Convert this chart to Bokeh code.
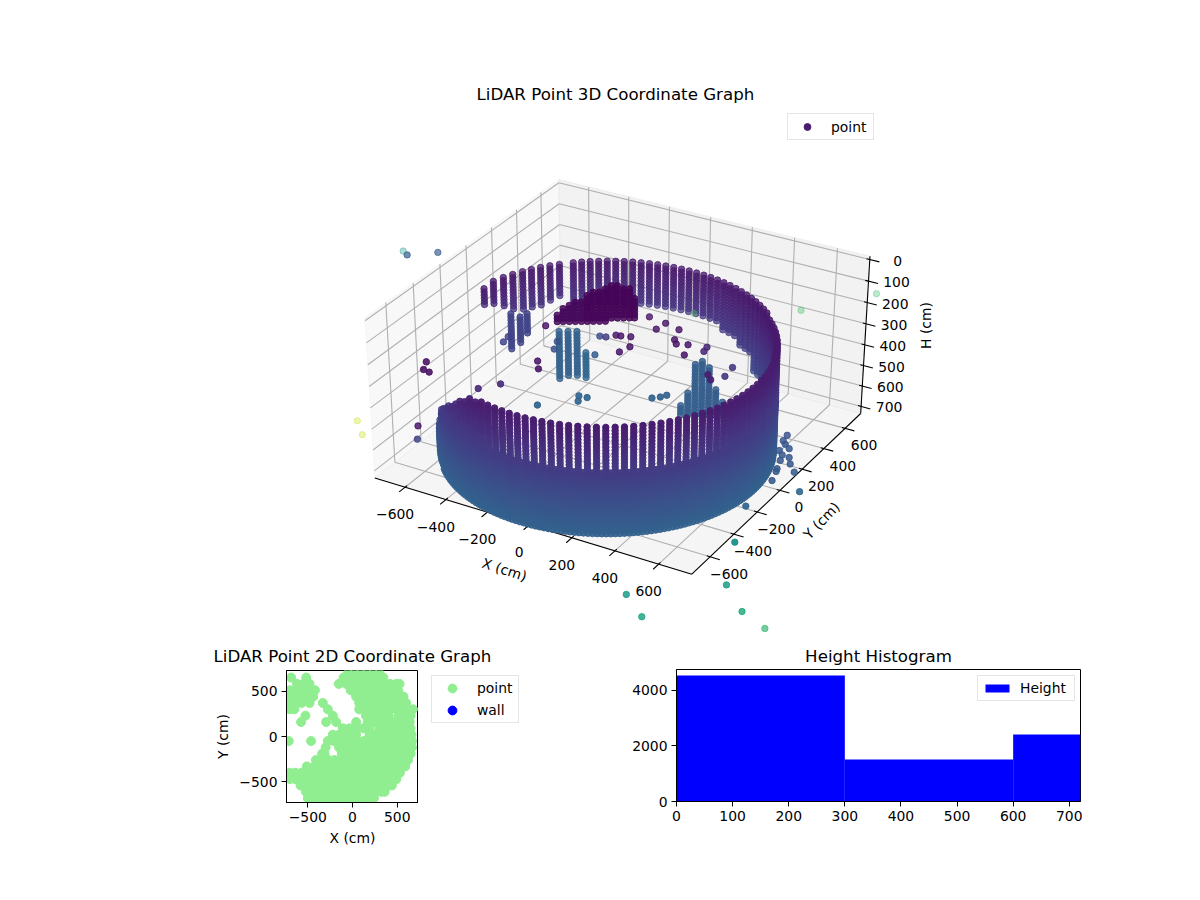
import numpy as np
from bokeh.plotting import figure
from bokeh.layouts import column, row
from bokeh.models import Range1d, Legend, LegendItem, FixedTicker
from bokeh.core.properties import value
from bokeh.palettes import Viridis256
from bokeh.embed import file_html
from bokeh.resources import INLINE

FONT = "DejaVu Sans"
TITLE_3D = "LiDAR Point 3D Coordinate Graph"
TITLE_2D = "LiDAR Point 2D Coordinate Graph"
TITLE_H = "Height Histogram"

# ---------- wall columns (upper tier): bearing around the lidar, top and bottom height
wall_angle = [-142,-138,-135,-132,-129,-126,-123,-120,-117,-114,-111,-108,-105,-102,-99,-96,-93,-90,-87,-84,-81,-78,-75,-72,-69,-66,-63,-60,-57,-54,-51,-48,-45,-42,-39,-36,-33,-30,-27,-24,-21,-18,-15,-12,-9,-6,-3,0,3,6,9,12,15,18,21,24,27,30,33,36,39,42,45,48,51,54,57,60,63,66,69,72,75,78,81,84,87,90,93,96,99,102,105,108,111,114,117,120,123,126,129,132,137,140.5,144,147.5,151,155,159,163.5,168]
wall_top = [565,535,460,430,400,370,350,320,290,270,250,250,235,235,235,235,235,235,235,235,235,235,235,235,235,235,235,235,235,235,235,235,235,235,235,235,235,235,235,235,235,235,235,235,235,235,235,235,235,235,235,235,235,220,220,220,220,220,220,220,220,220,220,205,205,205,205,205,205,205,205,205,205,205,205,205,205,205,205,205,205,205,205,205,205,205,205,205,205,205,205,205,205,205,205,205,205,205,205,205,220]
wall_bot = [610,610,510,510,510,510,510,510,510,510,510,510,510,510,510,510,510,510,510,510,510,510,510,510,510,510,510,510,510,510,510,510,510,510,510,510,510,510,510,510,510,510,510,510,510,510,510,510,510,510,510,510,510,510,510,510,510,510,600,600,600,600,600,540,540,540,540,470,470,470,430,430,430,410,410,410,410,410,410,410,410,410,410,410,410,410,410,410,410,410,410,410,360,380,390,390,390,370,340,320,300]
wall_levels = [205,220,235,250,265,280,295,310,325,340,355,370,385,400,415,430,445,460,475,490,505,520,535,550,565,580,595,610]
wall_radius = [700]
wall_center_x = [-42]
wall_center_y = [-55]

# ---------- wall columns (lower tier)
lower_angle = [-135,-133.5,-132,-130.5,-129,-127.5,-126,-124.5,-123,-121.5,-120,-118.5,-117,-115.5,-114,-112.5,-111,-109.5,-108,-106.5,-105,-103.5,-102,-100.5,-99,-97.5,-96,-94.5,-93,-91.5,-90,-88.5,-87,-85.5,-84,-82.5,-81,-79.5,-78,-76.5,-75,-73.5,-72,-70.5,-69,-67.5,-66,-64.5,-63,-61.5,-60,-58.5,-57,-55.5,-54,-52.5,-51,-49.5,-48,-46.5,-45,-43.5,-42,-40.5,-39,-37.5,-36,-34.5,-33,-31.5,-30,-28.5,-27,-25.5,-24,-22.5,-21,-19.5,-18,-16.5,-15,-13.5,-12,-10.5,-9,-7.5,-6,-4.5,-3,-1.5,0,1.5,3,4.5,6,7.5,9,10.5,12,13.5,15,16.5,18,19.5,21,22.5,24,25.5,27,28.5,30,31.5]
lower_levels = [445,460,475,490,505,520,535,550,565,580,595,610,625,640,655,670,685,700,715,730]
# broken left end of the lower tier
lower_left_angle = [-160,-156,-152,-149,-146,-143,-141,-139.5,-138,-136.5]
lower_left_levels = [610,625,640,655,670,685,700,715]

# ---------- inner column clusters: x, y, top, bottom, colour
inner_x = [-335,-303,-271,-243,-486,-453,-428,210,235,260,285,310,335,360,385,414,-316,-298,-277,-255,-234,-212,-191,-170,-148,-127,-105,-84,-62,-41,-23]
inner_y = [53,72,91,116,-82,-63,-48,126,141,156,170,185,200,215,230,247,-31,-21,-8,5,18,31,43,56,69,82,94,107,120,133,143]
inner_top = [300,300,300,400,200,215,200,535,475,350,325,365,465,525,550,575,225,185,155,135,125,115,95,80,70,60,50,50,55,60,105]
inner_bot = [535,520,525,530,370,340,290,600,600,600,600,600,600,600,600,600,225,225,220,220,220,215,215,215,215,215,210,210,210,210,205]
inner_c = [0.31,0.31,0.31,0.33,0.20,0.20,0.20,0.30,0.30,0.30,0.30,0.29,0.29,0.29,0.29,0.27,0.02,0.02,0.02,0.02,0.02,0.02,0.01,0.01,0.01,0.01,0.01,0.01,0.01,0.01,0.01]
inner_levels = [50,65,80,95,110,125,140,155,170,185,200,215,230,245,260,275,290,305,320,335,350,365,380,395,410,425,440,455,470,485,500,515,530,545,560,575,590,605]

# ---------- isolated points
pt_x = [-406,-339,-69,19,11,96,124,148,194,224,-6,-21,-47,-87,-108,-136,-162,-272,-234,-300,-358,448,390,421,279,272,457,-96,-79,26,46,62,290,315,330,-483,-490,-267,-291,-665,-638,-606,-701,-642,630,658,688,723,722,796,887,752,845,661,689,637,729,749,702,751]
pt_y = [62,293,350,333,267,310,222,193,211,125,75,14,154,140,136,101,95,-223,-279,-466,-544,128,24,-9,193,232,46,-58,-542,-393,-433,-389,-262,-238,-212,-150,-101,-99,-35,-457,-519,-526,-488,-583,290,218,133,128,22,32,-97,-307,-574,160,194,241,0,-74,89,83]
pt_h = [300,300,300,300,300,300,300,300,300,300,300,300,300,300,300,300,300,300,300,300,300,300,300,300,300,300,300,300,300,300,300,300,300,300,300,300,300,300,300,300,300,300,600,600,650,650,650,650,650,650,650,650,650,650,650,650,650,650,650,650]
pt_c = [0.04,0.05,0.05,0.05,0.05,0.05,0.05,0.05,0.06,0.06,0.05,0.05,0.05,0.05,0.06,0.18,0.24,0.05,0.05,0.12,0.12,0.15,0.08,0.08,0.10,0.10,0.15,0.30,0.32,0.32,0.32,0.32,0.31,0.31,0.31,0.20,0.20,0.25,0.25,0.04,0.04,0.04,0.05,0.20,0.25,0.27,0.27,0.27,0.27,0.30,0.33,0.32,0.52,0.27,0.27,0.26,0.28,0.28,0.27,0.28]

# ---------- far outliers (drawn with their own depth fade)
far_x = [-1315,-1279,-1176,666,457,78,-631,-551,935,1057,1218,1351,1474]
far_y = [355,332,420,1023,724,472,-1010,-1093,-1589,-1690,-1351,-1480,-1538]
far_h = [300,300,300,300,300,300,300,300,300,300,300,300,300]
far_c = [0.55,0.30,0.28,0.70,0.72,0.72,0.92,0.92,0.55,0.60,0.55,0.62,0.68]
far_a = [0.35,0.70,0.65,0.35,0.40,0.35,0.35,0.35,0.85,0.85,0.85,0.85,0.70]

# ---------- 3D axis values
tick_xy = [-600,-400,-200,0,200,400,600]
tick_h = [0,100,200,300,400,500,600,700]

# ---------- 2D scatter rows
rows2d_y = [-680,-610,-540,-470,-400,-330,-260,-190,-120,-50,20,90,160,230,300,370,440,510,580,650,700]
rows2d_x = [
 [-500,-430,-360,-290,-220,-150,-80,-10,60,130,200,240],
 [-520,-450,-380,-310,-240,-170,-100,-30,40,110,180,250,320,360],
 [-580,-510,-440,-370,-300,-230,-160,-90,-20,50,120,190,260,330,400,440],
 [-700,-640,-570,-500,-430,-360,-290,-220,-150,-80,-10,60,130,200,270,340,410,490],
 [-700,-640,-570,-500,-425,-360,-290,-220,-150,-80,-10,60,130,200,270,340,410,480,530],
 [-511,-425,-360,-290,-220,-150,-80,-10,60,130,200,270,340,410,480,550,590],
 [-410,-340,-270,-200,-130,-60,10,80,150,220,290,360,430,500,570,620],
 [-340,-313,-120,-60,10,80,150,220,290,360,430,500,570,650],
 [-300,-150,-80,-10,60,130,200,270,340,410,480,550,620,665],
 [-463,-713,-276,-210,-140,-70,0,60,130,190,260,330,400,470,540,610,665],
 [-220,-150,-80,-10,40,190,250,310,380,450,520,590,660],
 [-108,-34,40,120,185,300,370,440,510,580,650],
 [-575,-295,-183,41,170,240,300,405,470,540,640],
 [-526,-220,150,220,290,360,405,515,590,650],
 [-700,-650,-276,75,140,210,280,350,420,490,560,620,675],
 [-700,-640,-570,-480,-332,75,140,210,280,350,420,490,560,600],
 [-700,-630,-560,-490,-481,-440,40,110,180,250,320,390,460,530,570],
 [-700,-630,-560,-490,-420,-20,50,120,190,260,330,400,470,510],
 [-620,-550,-480,-153,-71,0,70,140,210,280,350,420,490,526],
 [-686,-518,-100,-30,40,110,180,250,320,345],
 [-50,20,90,160,230,300],
]
legend_2d = ["point", "wall"]

# ---------- histogram
hist_edges = [0, 300, 600, 720]
hist_counts = [4530, 1510, 2410]

# ---------- mplot3d style camera
LIM = 720.0
PAD = 2 * LIM / 48
Z_BOTTOM, Z_TOP = 720.0, 0.0
BOX = np.array([4.0, 4.0, 2.4]) * 1.8294640721620434 / np.linalg.norm([4.0, 4.0, 3.0])
ELEV, AZIM, DIST = np.radians(33.0), np.radians(-60.0), 10.0
CENTER = BOX / 2
EYE = CENTER + DIST * np.array([np.cos(ELEV) * np.cos(AZIM), np.cos(ELEV) * np.sin(AZIM), np.sin(ELEV)])
W = (EYE - CENTER) / np.linalg.norm(EYE - CENTER)
U = np.cross([0, 0, 1.0], W); U /= np.linalg.norm(U)
V = np.cross(W, U)

def camera(x, y, h):
    x, y, h = np.asarray(x, float), np.asarray(y, float), np.asarray(h, float)
    P = np.stack([(x + LIM) / (2 * LIM) * BOX[0], (y + LIM) / (2 * LIM) * BOX[1],
                  (h - Z_BOTTOM) / (Z_TOP - Z_BOTTOM) * BOX[2]], axis=-1) - EYE
    d = -(P @ W)
    return (P @ U) / d, (P @ V) / d, d

XL, XH = -LIM - PAD, LIM + PAD
YL, YH = -LIM - PAD, LIM + PAD
ZB, ZT = Z_BOTTOM + 15, Z_TOP - 15
# pane corners located in the reference: screen placement of the 3D box
_anchor_w = [(XL, YL, ZT), (XL, YH, ZT), (XH, YH, ZT), (XH, YL, ZB), (XL, YL, ZB), (XH, YH, ZB)]
_anchor_s = [(365, 323), (560, 178), (868, 257), (693, 578), (372, 475), (860, 405)]
_cx, _cy, _ = camera(*zip(*_anchor_w))
_A = np.polyfit(_cx, [s[0] for s in _anchor_s], 1)
_C = np.polyfit(_cy, [s[1] for s in _anchor_s], 1)

def project(x, y, h):
    cx, cy, d = camera(x, y, h)
    return _A[0] * cx + _A[1], _C[0] * cy + _C[1], d

# ---------- expand into a point cloud
X, Y, H, C = [], [], [], []
def wall_point(a, lv):
    X.append(wall_center_x[0] + wall_radius[0] * np.cos(np.radians(a)))
    Y.append(wall_center_y[0] + wall_radius[0] * np.sin(np.radians(a)))
    H.append(lv); C.append(float(np.interp(lv, [220, 720], [0.07, 0.31])))
for a, t, b in zip(wall_angle, wall_top, wall_bot):
    for lv in wall_levels:
        if t <= lv <= b:
            wall_point(a, lv)
for a in lower_angle:
    for lv in lower_levels:
        wall_point(a, lv)
for a in lower_left_angle:
    for lv in lower_left_levels:
        wall_point(a, lv)
for x0, y0, t, b, c in zip(inner_x, inner_y, inner_top, inner_bot, inner_c):
    for lv in inner_levels:
        if t <= lv <= b:
            X.append(x0); Y.append(y0); H.append(lv); C.append(c)
X += pt_x; Y += pt_y; H += pt_h; C += pt_c
sx, sy, dep = project(X, Y, H)
near_a = 1 - 0.28 * (dep - dep.min()) / (dep.max() - dep.min())
fx, fy, fd = project(far_x, far_y, far_h)
all_x = np.concatenate([sx, fx]); all_y = np.concatenate([sy, fy]); all_d = np.concatenate([dep, fd])
all_c = np.array(C + far_c); all_a = np.concatenate([near_a, far_a])
order = np.argsort(-all_d)
colors = [Viridis256[int(min(255, max(0, round(c * 255))))] for c in all_c[order]]

# ---------- top figure
p = figure(title=TITLE_3D, frame_width=1192, frame_height=535, min_border_left=0, min_border_right=0,
           min_border_top=105, min_border_bottom=0, x_range=Range1d(0, 1192), y_range=Range1d(640, 105),
           x_axis_type=None, y_axis_type=None, toolbar_location=None, output_backend="svg")
p.outline_line_color = None
p.grid.visible = False
p.title.align = "left"; p.title.offset = 476; p.title.text_font = FONT
p.title.text_font_size = "16.67px"; p.title.text_font_style = "normal"; p.title.text_color = "#000000"
p.title.standoff = 3

def ppatch(corners, col):
    a, b, _ = project(*zip(*corners))
    p.patch(a.tolist(), b.tolist(), fill_color=col, fill_alpha=0.5, line_color=col, line_alpha=0.5, line_width=1)

ppatch([(XL, YL, ZB), (XL, YH, ZB), (XL, YH, ZT), (XL, YL, ZT)], "#f2f2f2")
ppatch([(XL, YH, ZB), (XH, YH, ZB), (XH, YH, ZT), (XL, YH, ZT)], "#e6e6e6")
ppatch([(XL, YL, ZB), (XH, YL, ZB), (XH, YH, ZB), (XL, YH, ZB)], "#ececec")

def seg(start, end, color, width):
    x0, y0, _ = project(*zip(*start)); x1, y1, _ = project(*zip(*end))
    p.segment(x0.tolist(), y0.tolist(), x1.tolist(), y1.tolist(), line_color=color, line_width=width)

GRID = "#b0b0b0"
for t in tick_xy:
    seg([(t, YL, ZB), (t, YH, ZB)], [(t, YH, ZB), (t, YH, ZT)], GRID, 1.1)
    seg([(XH, t, ZB), (XL, t, ZB)], [(XL, t, ZB), (XL, t, ZT)], GRID, 1.1)
for t in tick_h:
    seg([(XL, YL, t), (XL, YH, t)], [(XL, YH, t), (XH, YH, t)], GRID, 1.1)

seg([(XL, YL, ZB), (XH, YL, ZB), (XH, YH, ZB)], [(XH, YL, ZB), (XH, YH, ZB), (XH, YH, ZT)], "#000000", 1.1)
T = 44
seg([(t, YL + 15, ZB) for t in tick_xy], [(t, YL - T, ZB) for t in tick_xy], "#000000", 1.1)
seg([(XH - 15, t, ZB) for t in tick_xy], [(XH + T, t, ZB) for t in tick_xy], "#000000", 1.1)
seg([(XH - 15, YH, t) for t in tick_h], [(XH + T, YH, t) for t in tick_h], "#000000", 1.1)

def minus(v):
    return str(v).replace("-", "\u2212")

def labels(pos, txt, dx, dy):
    a, b, _ = project(*zip(*pos))
    p.text((a + dx).tolist(), (b + dy).tolist(), text=txt, text_font=value(FONT), text_font_size="13.9px",
           text_align="center", text_baseline="middle", text_color="#000000")

labels([(t, YL, ZB) for t in tick_xy], [minus(t) for t in tick_xy], -10, 27)
labels([(XH, t, ZB) for t in tick_xy], [minus(t) for t in tick_xy], 19, 17)
labels([(XH, YH, t) for t in tick_h], [minus(t) for t in tick_h], 28, 1)

for txt, xx, yy, ang in [("X (cm)", 504, 569, -18), ("Y (cm)", 821, 520, 46), ("H (cm)", 925, 325, 90)]:
    p.text([xx], [yy], text=[txt], angle=ang, angle_units="deg", text_font=value(FONT), text_font_size="13.9px",
           text_align="center", text_baseline="middle", text_color="#000000")

p.scatter(all_x[order].tolist(), all_y[order].tolist(), size=6.4, fill_color=colors, line_color=colors,
          fill_alpha=all_a[order].tolist(), line_alpha=all_a[order].tolist(), line_width=1)

def style_legend(lg, pad=5, standoff=8, lw=None):
    lg.margin = 0; lg.padding = pad; lg.spacing = 0
    lg.label_text_font = FONT; lg.label_text_font_size = "13.9px"; lg.label_text_color = "#000000"
    lg.border_line_color = "#cccccc"; lg.border_line_width = 1; lg.background_fill_alpha = 0.8
    lg.label_standoff = standoff; lg.label_height = 14
    if lw:
        lg.label_width = lw

dummy = p.scatter([float("nan")], [float("nan")], size=6.2, fill_color="#481c6e", line_color="#481c6e")
lg = Legend(items=[LegendItem(label="point", renderers=[dummy])], location=(787, 500), glyph_width=30, glyph_height=17)
style_legend(lg, 4, 9, 38)
p.add_layout(lg)

# ---------- 2D scatter
def style_title(f):
    f.title.text_font = FONT; f.title.text_font_size = "16.67px"
    f.title.text_font_style = "normal"; f.title.text_color = "#000000"; f.title.standoff = 8

def style_small(f):
    f.outline_line_color = "#000000"; f.grid.visible = False
    for ax in list(f.xaxis) + list(f.yaxis):
        ax.major_label_text_font = FONT; ax.major_label_text_font_size = "13.9px"
        ax.major_label_text_color = "#000000"
        ax.axis_label_text_font = FONT; ax.axis_label_text_font_size = "13.9px"
        ax.axis_label_text_font_style = "normal"; ax.axis_label_text_color = "#000000"
        ax.major_tick_line_color = "#000000"; ax.major_tick_in = 0; ax.major_tick_out = 5
        ax.minor_tick_line_color = None; ax.axis_line_color = "#000000"
        ax.major_label_standoff = 4

# the 2D title is wider than its frame, so it gets the full width of the block
pt = figure(title=TITLE_2D, frame_width=530, frame_height=1, min_border_left=0, min_border_right=0,
            min_border_top=28, min_border_bottom=0, x_range=Range1d(0, 1), y_range=Range1d(0, 1),
            x_axis_type=None, y_axis_type=None, toolbar_location=None, output_backend="svg")
pt.outline_line_color = None; pt.grid.visible = False
style_title(pt)
pt.title.align = "left"; pt.title.offset = 213

p2 = figure(frame_width=132, frame_height=132, min_border_left=286, min_border_right=0,
            min_border_top=0, min_border_bottom=91, x_range=Range1d(-738, 738), y_range=Range1d(-728, 728),
            toolbar_location=None, output_backend="svg")
x2 = [v for xs in rows2d_x for v in xs]
y2 = [yy for yy, xs in zip(rows2d_y, rows2d_x) for _ in xs]
p2.scatter(x2, y2, size=9, fill_color="#90ee90", line_color="#90ee90")
style_small(p2)
p2.xaxis.axis_label = "X (cm)"; p2.yaxis.axis_label = "Y (cm)"
p2.xaxis.ticker = FixedTicker(ticks=[-500, 0, 500]); p2.yaxis.ticker = FixedTicker(ticks=[-500, 0, 500])
p2.xaxis.major_label_overrides = {-500: "\u2212500", 0: "0", 500: "500"}
p2.yaxis.major_label_overrides = {-500: "\u2212500", 0: "0", 500: "500"}

# legend of the 2D chart sits beside its frame
pl = figure(frame_width=112, frame_height=132, min_border_left=0, min_border_right=0, min_border_top=0,
            min_border_bottom=91, x_range=Range1d(0, 1), y_range=Range1d(0, 1), x_axis_type=None, y_axis_type=None,
            toolbar_location=None, output_backend="svg")
pl.outline_line_color = None; pl.grid.visible = False
rp = pl.scatter([float("nan")], [float("nan")], size=9, fill_color="#90ee90", line_color="#90ee90")
rw = pl.scatter([float("nan")], [float("nan")], size=9, fill_color="#0000ff", line_color="#0000ff")
lg2 = Legend(items=[LegendItem(label=legend_2d[0], renderers=[rp]), LegendItem(label=legend_2d[1], renderers=[rw])],
             location=(13, 79), glyph_width=38, glyph_height=22)
style_legend(lg2, 1, 6, 40)
pl.add_layout(lg2)

# ---------- histogram
p3 = figure(title=TITLE_H, frame_width=404, frame_height=132, min_border_left=146, min_border_right=112,
            min_border_top=29, min_border_bottom=91, x_range=Range1d(0, 720), y_range=Range1d(0, 4750),
            toolbar_location=None, output_backend="svg")
rh = p3.quad(left=hist_edges[:-1], right=hist_edges[1:], bottom=[0, 0, 0], top=hist_counts, fill_color="#0000ff", line_color=None)
style_small(p3)
style_title(p3)
p3.title.align = "center"
p3.xaxis.ticker = FixedTicker(ticks=[0, 100, 200, 300, 400, 500, 600, 700])
p3.yaxis.ticker = FixedTicker(ticks=[0, 2000, 4000])
lg3 = Legend(items=[LegendItem(label="Height", renderers=[rh])], location=(301, 100), glyph_width=30, glyph_height=10)
style_legend(lg3, 4, 8, 50)
p3.add_layout(lg3)

layout = column(p, row(column(pt, row(p2, pl)), p3))
open("out.html", "w").write(file_html(layout, INLINE))
